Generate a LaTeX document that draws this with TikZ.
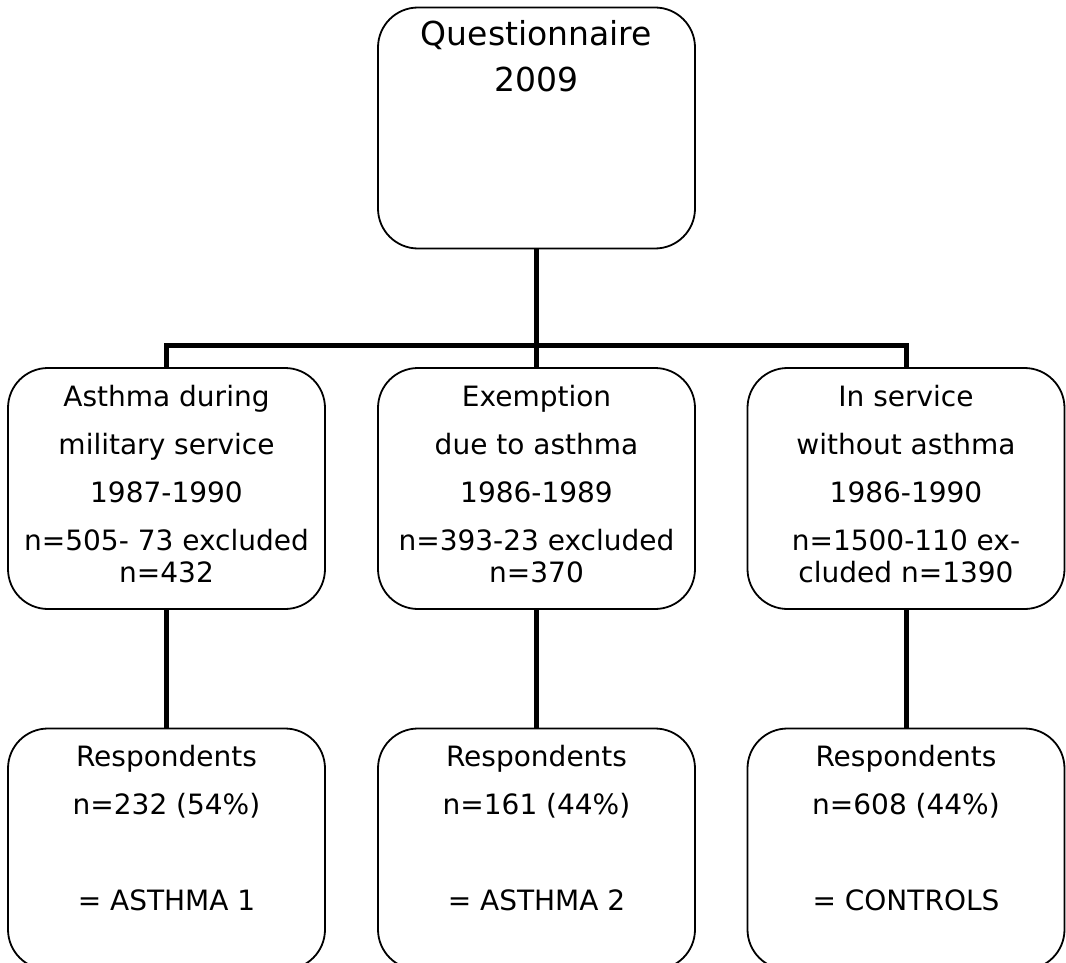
\documentclass[tikz,border=0pt]{standalone}
\usepackage{fontspec}
\setmainfont{DejaVu Sans}
\usepackage{tikz}
\usetikzlibrary{positioning}

\begin{document}
\begin{tikzpicture}[x=1pt, y=-1pt,
  box/.style={draw, line width=1.8pt, rounded corners=40pt, minimum width=317pt, minimum height=241pt, inner sep=0pt},
  txt/.style={align=center, anchor=north, inner sep=0pt, yshift=-16.6pt, font=\fontsize{28}{32}\selectfont},
  conn/.style={line width=5pt}]
\useasboundingbox (0,0) rectangle (1066,963);
\clip (0,0) rectangle (1066,963);
\node[box] (q) at (536.5,128) {};
\node[box] (a1) at (166.5,488.5) {};
\node[box] (a2) at (536.5,488.5) {};
\node[box] (a3) at (906,488.5) {};
\node[box] (r1) at (166.5,849) {};
\node[box] (r2) at (536.5,849) {};
\node[box] (r3) at (906,849) {};
\node[txt, yshift=9.8pt, font=\fontsize{33}{46}\selectfont] (qt) at (q.north) {\strut Questionnaire\\2009};
\node[txt] (a1t) at (a1.north) {\strut Asthma during\\[16pt]military service\\[16pt]1987-1990\\[16pt]n=505- 73 excluded\\n=432};
\node[txt] (a2t) at (a2.north) {\strut Exemption\\[16pt]due to asthma\\[16pt]1986-1989\\[16pt]n=393-23 excluded\\n=370};
\node[txt] (a3t) at (a3.north) {\strut In service\\[16pt]without asthma\\[16pt]1986-1990\\[16pt]n=1500-110 ex-\\cluded n=1390};
\node[txt] (r1t) at (r1.north) {\strut Respondents\\[16pt]n=232 (54\%)\\[64pt]= ASTHMA 1};
\node[txt] (r2t) at (r2.north) {\strut Respondents\\[16pt]n=161 (44\%)\\[64pt]= ASTHMA 2};
\node[txt] (r3t) at (r3.north) {\strut Respondents\\[16pt]n=608 (44\%)\\[64pt]= CONTROLS};
\coordinate (bus) at (536.5,345);
\draw[conn] (q.south) -- (bus);
\draw[conn] (a1.north) |- (bus) -| (a3.north);
\draw[conn] (bus) -- (a2.north);
\foreach \i in {1,2,3}
  \draw[conn] (a\i.south) -- (r\i.north);
\end{tikzpicture}
\end{document}
